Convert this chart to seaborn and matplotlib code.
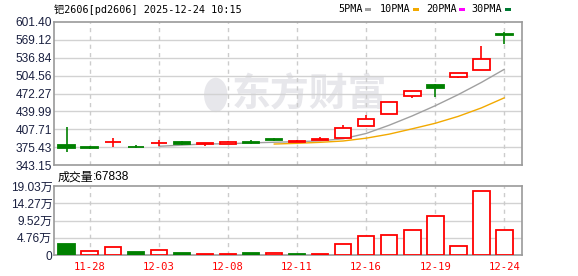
import matplotlib
matplotlib.use("Agg")
import matplotlib.pyplot as plt
import seaborn as sns
import pandas as pd
from matplotlib.patches import Rectangle, Ellipse

# ---------------- data ----------------
dates = ["11-27", "11-28", "12-01", "12-02", "12-03", "12-04", "12-05", "12-08", "12-09", "12-10",
         "12-11", "12-12", "12-15", "12-16", "12-17", "12-18", "12-19", "12-22", "12-23", "12-24"]
opens = [379.0, 376.0, 383.8, 376.0, 382.0, 385.0, 381.5, 381.3, 384.9, 390.3,
         385.0, 388.5, 392.6, 413.6, 434.6, 466.9, 487.1, 502.7, 515.3, 580.5]
highs = [411.0, 377.8, 391.6, 379.5, 388.5, 386.7, 383.6, 386.7, 388.0, 392.6,
         388.5, 393.9, 416.0, 433.3, 456.1, 477.6, 489.5, 509.9, 558.4, 582.9]
lows = [367.0, 372.8, 376.5, 374.6, 378.3, 379.5, 378.3, 381.0, 381.3, 386.7,
        384.8, 388.0, 392.6, 413.6, 434.6, 464.4, 465.6, 500.2, 515.3, 562.0]
closes = [373.5, 373.2, 384.8, 375.0, 383.0, 381.3, 383.1, 384.9, 383.1, 388.5,
          386.7, 390.3, 409.5, 425.6, 456.1, 477.6, 482.3, 509.9, 535.0, 577.5]
ma5 = [None, None, None, None, 377.0, 379.0, 381.2, 381.5, 383.1, 384.2,
       385.3, 386.7, 390.5, 400.1, 415.0, 431.8, 450.2, 470.3, 492.2, 516.0]
ma10 = [None, None, None, None, None, None, None, None, None, 381.0,
        382.3, 384.1, 386.5, 391.6, 398.9, 408.5, 418.5, 431.0, 446.2, 464.5]
volumes = [30300, 10200, 22100, 8300, 13000, 5500, 2800, 2800, 5500, 5500,
           2800, 2800, 29500, 51600, 54300, 69000, 106700, 24000, 175700, 67838]
vol_up = [False, True, True, False, True, False, True, True, False, True,
          False, True, True, True, True, True, True, True, True, True]
tick_dates = ["11-28", "12-03", "12-08", "12-11", "12-16", "12-19", "12-24"]
price_ticks = [343.15, 375.43, 407.71, 439.99, 472.27, 504.56, 536.84, 569.12, 601.40]
price_tick_labels = ["343.15", "375.43", "407.71", "439.99", "472.27", "504.56", "536.84", "569.12", "601.40"]
vol_ticks = [0, 47575, 95150, 142725, 190300]
vol_tick_labels = ["0", "4.76万", "9.52万", "14.27万", "19.03万"]
title = "钯2606[pd2606] 2025-12-24 10:15"
legend_names = ["5PMA", "10PMA", "20PMA", "30PMA"]
vol_label = "成交量"
vol_last = "67838"

# ---------------- style ----------------
sns.set_theme(style="white")
plt.rcParams['font.family'] = ['Liberation Sans', 'Noto Sans CJK SC', 'DejaVu Sans']

RED = "#ff0000"
GREEN = "#008000"
GRAY_MA = "#a0a0a0"
ORANGE = "#f2a900"
MAGENTA = "#ff00ff"
DKGREEN = "#007a33"
SPINE = "#9a9a9a"
GRID = "#d2d2d2"
LABEL = "#1a2040"
WM = "#e7e7eb"

W, H = 578, 276
fig = plt.figure(figsize=(W / 100, H / 100), dpi=100)
fig.patch.set_facecolor("white")

def ax_rect(l, t, r, b):
    return [l / W, 1 - b / H, (r - l) / W, (b - t) / H]

ax = fig.add_axes(ax_rect(54.3, 22, 522.3, 165))
axv = fig.add_axes(ax_rect(54.3, 186, 522.3, 255))

n = len(dates)
xs = list(range(n))
tick_pos = [dates.index(d) for d in tick_dates]
XL = (-0.54, 19.78)
BW = 0.72

for a in (ax, axv):
    a.set_xlim(*XL)
    for s in a.spines.values():
        s.set_color(SPINE)
        s.set_linewidth(1.2)
    a.tick_params(length=0)
    for p in tick_pos:
        a.axvline(p, color="#cccccc", lw=1, ls=(0, (3, 3)), zorder=0.5)

# price axis
ax.set_ylim(price_ticks[0], price_ticks[-1])
ax.set_yticks(price_ticks)
ax.set_yticklabels(price_tick_labels, fontsize=8.6, color=LABEL)
ax.tick_params(axis="y", pad=1.5)
ax.set_xticks([])
for t in price_ticks[1:-1]:
    ax.axhline(t, color=GRID, lw=1, zorder=0.4)

# watermark
ax.text(0.546, 0.49, "东方财富", transform=ax.transAxes, fontsize=28, fontweight="bold",
        color=WM, ha="center", va="center", zorder=0.3, family=['Noto Sans CJK SC'])
ax.add_patch(Ellipse((0.345, 0.49), 0.05, 0.24, angle=0, transform=ax.transAxes,
                     facecolor=WM, edgecolor="none", zorder=0.3))

# moving averages
ma_df = pd.DataFrame({"x": xs, "ma5": ma5, "ma10": ma10})
sns.lineplot(data=ma_df, x="x", y="ma5", ax=ax, color=GRAY_MA, lw=1, zorder=2)
sns.lineplot(data=ma_df, x="x", y="ma10", ax=ax, color=ORANGE, lw=1, zorder=2)
ax.set_xlabel("")
ax.set_ylabel("")
ax.set_xlim(*XL)
ax.set_xticks([])

# candles
for i in xs:
    o, h, l, c = opens[i], highs[i], lows[i], closes[i]
    up = c >= o
    col = RED if up else GREEN
    ax.vlines(i, l, h, color=col, lw=1.2, zorder=3)
    ax.bar(i, abs(c - o), bottom=min(o, c), width=BW,
           facecolor="white" if up else GREEN, edgecolor=col, linewidth=1.3, zorder=4)

# volume axis
axv.set_ylim(vol_ticks[0], vol_ticks[-1])
axv.set_yticks(vol_ticks)
axv.set_yticklabels(vol_tick_labels, fontsize=8.6, color=LABEL)
axv.tick_params(axis="y", pad=1.5)
for t in vol_ticks[1:-1]:
    axv.axhline(t, color=GRID, lw=1, zorder=0.4)
for i in xs:
    up = vol_up[i]
    col = RED if up else GREEN
    axv.bar(i, volumes[i], width=BW, facecolor="white" if up else GREEN,
            edgecolor=col, linewidth=1.3, zorder=3)
axv.set_xticks(tick_pos)
axv.set_xticklabels(tick_dates, fontsize=7.6, color=RED, family=['DejaVu Sans Mono'])
axv.tick_params(axis="x", pad=5)

# header texts
fig.text(54 / W, 1 - 9.5 / H, title, fontsize=7.3, color="black", ha="left", va="center",
         family=['DejaVu Sans Mono', 'Noto Sans CJK SC'])
leg_cols = [GRAY_MA, ORANGE, MAGENTA, DKGREEN]
leg_x = [338, 380, 425.7, 471.7]
sq_x = [365, 413.3, 459.3, 505]
for name, col, lx, sx in zip(legend_names, leg_cols, leg_x, sq_x):
    fig.text(lx / W, 1 - 9.5 / H, name, fontsize=7.3, color="black", ha="left", va="center",
             family=['DejaVu Sans Mono'])
    fig.add_artist(Rectangle((sx / W, 1 - 11.3 / H), 5.5 / W, 3.3 / H,
                             transform=fig.transFigure, facecolor=col, edgecolor="none"))

fig.text(57.5 / W, 1 - 177 / H, vol_label, fontsize=8.6, color="black", ha="left", va="center",
         family=['Noto Sans CJK SC'])
fig.text(93 / W, 1 - 177 / H, ":" + vol_last, fontsize=8.6, color="black", ha="left", va="center",
         family=['Liberation Sans'])

fig.savefig("out.png", dpi=100, facecolor="white")
